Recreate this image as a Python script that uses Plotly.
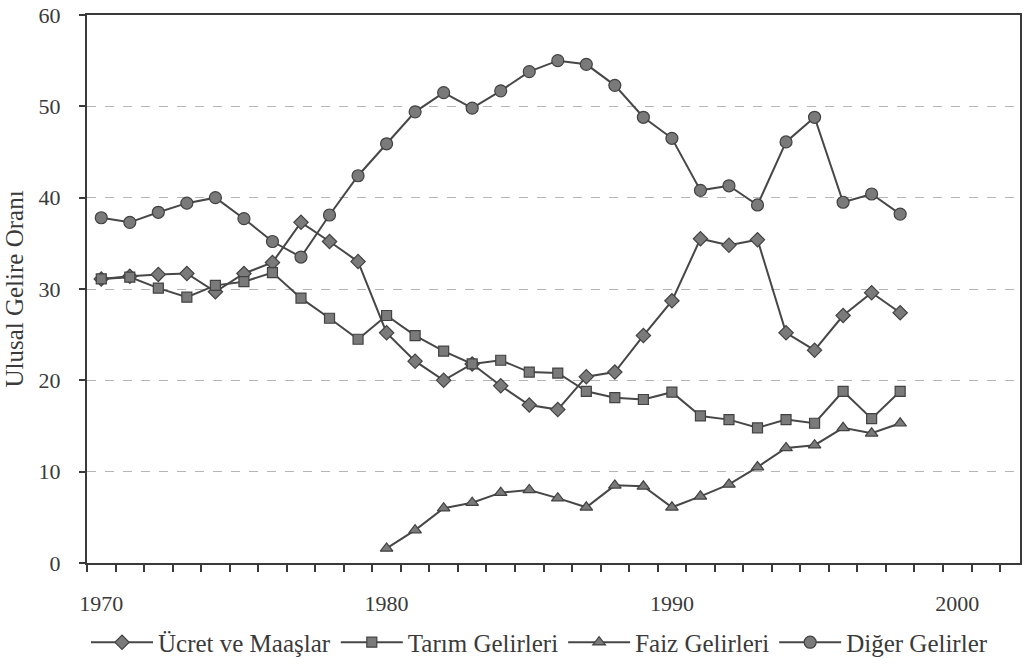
import plotly.graph_objects as go

years = list(range(1970, 1999))
faiz_years = list(range(1980, 1999))

ucret = [31.1, 31.4, 31.6, 31.7, 29.7, 31.7, 32.9, 37.3, 35.2, 33.0,
         25.2, 22.1, 20.0, 21.8, 19.4, 17.3, 16.8, 20.4, 20.9, 24.9,
         28.7, 35.5, 34.8, 35.4, 25.2, 23.3, 27.1, 29.6, 27.4]
tarim = [31.1, 31.3, 30.1, 29.1, 30.4, 30.8, 31.8, 29.0, 26.8, 24.5,
         27.1, 24.9, 23.2, 21.8, 22.2, 20.9, 20.8, 18.8, 18.1, 17.9,
         18.7, 16.1, 15.7, 14.8, 15.7, 15.3, 18.8, 15.8, 18.8]
faiz = [1.6, 3.6, 6.0, 6.6, 7.7, 8.0, 7.1, 6.1, 8.5, 8.4,
        6.1, 7.3, 8.6, 10.5, 12.6, 12.9, 14.8, 14.2, 15.3]
diger = [37.8, 37.3, 38.4, 39.4, 40.0, 37.7, 35.2, 33.5, 38.1, 42.4,
         45.9, 49.4, 51.5, 49.8, 51.7, 53.8, 55.0, 54.6, 52.3, 48.8,
         46.5, 40.8, 41.3, 39.2, 46.1, 48.8, 39.5, 40.4, 38.2]

names = ["Ücret ve Maaşlar", "Tarım Gelirleri", "Faiz Gelirleri", "Diğer Gelirler"]
x_tick_vals = [1970, 1980, 1990, 2000]
y_tick_vals = [0, 10, 20, 30, 40, 50, 60]

LINE = "#474747"
FILL = "#7a7a7a"
EDGE = "#424242"
FONT = "Liberation Serif"
TXT = "#3a3a3a"

fig = go.Figure()
series = [
    (years, ucret, names[0], "diamond", 11),
    (years, tarim, names[1], "square", 10),
    (faiz_years, faiz, names[2], "triangle-up", 11),
    (years, diger, names[3], "circle", 12),
]
for xs, ys, nm, sym, sz in series:
    fig.add_trace(go.Scatter(
        x=xs, y=ys, name=nm, mode="lines+markers",
        line=dict(color=LINE, width=2),
        marker=dict(symbol=sym, size=sz, color=FILL,
                    line=dict(color=EDGE, width=1.2)),
    ))

fig.update_layout(
    width=1026, height=671,
    margin=dict(l=87, r=6, t=15, b=95),
    paper_bgcolor="white", plot_bgcolor="white",
    font=dict(family=FONT, size=22, color=TXT),
    showlegend=True,
    legend=dict(orientation="h", x=0.485, xanchor="center", y=-0.145,
                yanchor="middle", font=dict(size=25, family=FONT, color=TXT),
                itemwidth=62, tracegroupgap=0, bgcolor="rgba(0,0,0,0)"),
)
fig.update_xaxes(
    range=[1969.5, 2002.2], tickmode="array", tickvals=x_tick_vals,
    ticktext=[str(v) for v in x_tick_vals], ticks="", ticklabelstandoff=20,
    ticklabeloverflow="allow",
    showgrid=False, zeroline=False, automargin=False,
    showline=True, linecolor="#3a3a3a", linewidth=2, mirror=True,
    minor=dict(ticks="outside", tick0=1969.5, dtick=1, ticklen=7,
               tickcolor="#3a3a3a", tickwidth=1.5, showgrid=False),
    tickfont=dict(size=22, family=FONT),
)
fig.update_yaxes(
    range=[0, 60], tickmode="array", tickvals=y_tick_vals,
    ticks="outside", ticklen=6, tickcolor="#3a3a3a", tickwidth=1.5,
    ticklabelstandoff=14, automargin=False, ticklabeloverflow="allow",
    showgrid=True, gridcolor="#b5b5b5", griddash="dash", gridwidth=1,
    zeroline=False, showline=True, linecolor="#3a3a3a", linewidth=2, mirror=True,
    tickfont=dict(size=22, family=FONT),
    title=dict(text="Ulusal Gelire Oranı", font=dict(size=25, family=FONT), standoff=8),
)
fig.write_html("out.html", config={"displayModeBar": False},
               post_script="document.body.style.margin='0px';document.body.style.overflow='hidden';")
